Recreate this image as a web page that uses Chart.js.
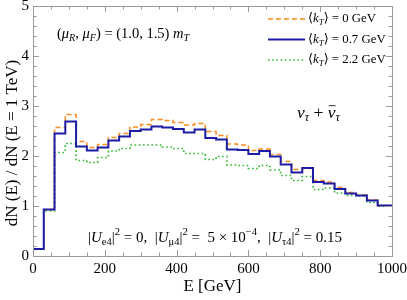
<!DOCTYPE html>
<html><head><meta charset="utf-8">
<script src="https://cdn.jsdelivr.net/npm/chart.js@4.4.1/dist/chart.umd.min.js"></script>
<style>html,body{margin:0;padding:0;background:#fff;}#wrap{width:407px;height:300px;}</style>
</head><body><div id="wrap"><canvas id="c" width="407" height="300"></canvas></div>
<script>
// Bin edges in GeV (left edges, last entry is the right end of the final bin)
const binEdges = [0,30,60,90,120,150,180,210,240,270,300,330,360,390,420,450,480,510,540,570,600,630,660,690,720,750,780,810,840,870,900,930,960,1000];
// Bin contents (one per bin, 33 bins)
const kt0 = [0.14,0.93,2.57,2.83,2.29,2.17,2.23,2.37,2.45,2.58,2.63,2.73,2.71,2.67,2.62,2.65,2.49,2.41,2.24,2.22,2.11,2.14,2.03,1.89,1.73,1.75,1.51,1.48,1.37,1.27,1.22,1.12,1.01];
const kt07 = [0.14,0.93,2.45,2.69,2.19,2.11,2.17,2.31,2.39,2.50,2.53,2.59,2.57,2.54,2.47,2.53,2.36,2.33,2.13,2.12,2.04,2.10,1.99,1.83,1.67,1.76,1.48,1.45,1.34,1.25,1.21,1.11,1.01];
const kt22 = [0.14,0.90,2.07,2.25,1.91,1.87,1.97,2.10,2.15,2.22,2.22,2.22,2.18,2.15,2.05,2.05,1.93,1.99,1.82,1.81,1.75,1.81,1.72,1.61,1.51,1.59,1.33,1.36,1.26,1.21,1.20,1.07,1.00];
const seriesLabels = ['⟨k_T⟩ = 0 GeV','⟨k_T⟩ = 0.7 GeV','⟨k_T⟩ = 2.2 GeV'];
const legendValues = ['0','0.7','2.2'];
const xTicks = [0,200,400,600,800,1000];
const yTicks = [0,1,2,3,4,5];

function toSteps(vals){
  const pts = vals.map((v,i)=>({x:binEdges[i], y:v}));
  pts.push({x:binEdges[binEdges.length-1], y:vals[vals.length-1]});
  return pts;
}
const SERIF = '"Liberation Serif","DejaVu Serif",serif';
const cols = ['#ff8c1e','#1c1ca6','#2eb82e'];
const dashes = [[5,3],[],[1.6,2.6]];
const widths = [1.5,2,1.7];

function drawRich(ctx, x, y, segs, size){
  const parts = segs.map(s=>{
    const sz = (s.sub||s.sup)? size*0.7 : size;
    const f = (s.it?'italic ':'') + sz + 'px ' + SERIF;
    ctx.font = f;
    return {s, f, w: ctx.measureText(s.t).width, sz};
  });
  let cx = x;
  ctx.textBaseline = 'middle';
  ctx.textAlign = 'left';
  ctx.fillStyle = '#000';
  for (const p of parts){
    ctx.font = p.f;
    let yy = y;
    if (p.s.sub) yy = y + size*0.3;
    if (p.s.sup) yy = y - size*0.38;
    ctx.fillText(p.s.t, cx, yy);
    if (p.s.over){
      ctx.save(); ctx.strokeStyle='#000'; ctx.lineWidth=0.8;
      ctx.beginPath(); ctx.moveTo(cx+1, y-size*0.42); ctx.lineTo(cx+p.w, y-size*0.42); ctx.stroke(); ctx.restore();
    }
    cx += p.w;
  }
}

const framePlugin = {
  id:'frame',
  afterDraw(chart){
    const {ctx, chartArea:{left,right,top,bottom}, scales:{x,y}} = chart;
    ctx.save();
    ctx.strokeStyle = '#9a9a9a'; ctx.lineWidth = 1;
    ctx.strokeRect(Math.round(left)+0.5, Math.round(top)+0.5, Math.round(right-left), Math.round(bottom-top));
    ctx.beginPath();
    for (let v=0; v<=1000; v+=50){
      const px = Math.round(x.getPixelForValue(v))+0.5;
      const L = (v%200===0)?6:3.5;
      ctx.moveTo(px,bottom); ctx.lineTo(px,bottom-L);
      ctx.moveTo(px,top); ctx.lineTo(px,top+L);
    }
    for (let k=0; k<=25; k++){
      const v = k*0.2;
      const py = Math.round(y.getPixelForValue(v))+0.5;
      const L = (k%5===0)?6:3.5;
      ctx.moveTo(left,py); ctx.lineTo(left+L,py);
      ctx.moveTo(right,py); ctx.lineTo(right-L,py);
    }
    ctx.stroke();
    // legend
    for (let i=0;i<3;i++){
      const ly = 19 + i*20.5;
      ctx.save();
      ctx.strokeStyle = cols[i]; ctx.lineWidth = widths[i]; ctx.setLineDash(dashes[i]);
      ctx.beginPath(); ctx.moveTo(268, ly); ctx.lineTo(305, ly); ctx.stroke();
      ctx.restore();
      drawRich(ctx, 308, ly, [{t:'⟨'},{t:'k',it:1},{t:'T',it:1,sub:1},{t:'⟩ = '+legendValues[i]+' GeV'}], 12.8);
    }
    drawRich(ctx, 57, 34, [{t:'('},{t:'μ',it:1},{t:'R',it:1,sub:1},{t:', '},{t:'μ',it:1},{t:'F',it:1,sub:1},{t:') = (1.0, 1.5) '},{t:'m',it:1},{t:'T',it:1,sub:1}], 14.5);
    drawRich(ctx, 297, 113, [{t:'ν',it:1},{t:'τ',it:1,sub:1},{t:' + '},{t:'ν',it:1,over:1},{t:'τ',it:1,sub:1}], 17.5);
    drawRich(ctx, 88, 238, [{t:'|'},{t:'U',it:1},{t:'e4',sub:1},{t:'|'},{t:'2',sup:1},{t:' = 0,  |'},{t:'U',it:1},{t:'μ4',sub:1},{t:'|'},{t:'2',sup:1},{t:' =  5 × 10'},{t:'−4',sup:1},{t:',  |'},{t:'U',it:1},{t:'τ4',sub:1},{t:'|'},{t:'2',sup:1},{t:' = 0.15'}], 15);
    // axis titles
    ctx.fillStyle='#000';
    ctx.font = '17px ' + SERIF; ctx.textAlign='center'; ctx.textBaseline='middle';
    ctx.fillText('E [GeV]', (left+right)/2, 287);
    ctx.save(); ctx.translate(13, 143); ctx.rotate(-Math.PI/2);
    ctx.font = '17px ' + SERIF;
    ctx.fillText('dN (E) / dN (E = 1 TeV)', 0, 0);
    ctx.restore();
    ctx.restore();
  }
};

const datasets = [kt0, kt07, kt22].map((vals,i)=>({
  label: seriesLabels[i],
  data: toSteps(vals),
  stepped: true,
  borderColor: cols[i],
  borderWidth: widths[i],
  borderDash: dashes[i],
  pointRadius: 0,
  fill: false,
  order: [1,0,2][i]
}));

new Chart(document.getElementById('c'), {
  type:'line',
  data:{datasets},
  options:{
    responsive:false, animation:false, devicePixelRatio:1,
    layout:{padding:{top:6,right:15,left:0,bottom:0}},
    plugins:{legend:{display:false}, tooltip:{enabled:false}},
    scales:{
      x:{type:'linear', min:0, max:1000,
        afterBuildTicks(s){ s.ticks = xTicks.map(v=>({value:v})); },
        afterFit(s){ s.height = 44; s.paddingLeft=0; s.paddingRight=0; },
        grid:{display:false, drawTicks:false}, border:{display:false},
        ticks:{padding:4, color:'#000', font:{family:SERIF, size:15}, maxRotation:0, autoSkip:false, callback:(v)=>String(v)}},
      y:{type:'linear', min:0, max:5,
        afterBuildTicks(s){ s.ticks = yTicks.map(v=>({value:v})); },
        afterFit(s){ s.width = 33; s.paddingTop=0; s.paddingBottom=0; },
        grid:{display:false, drawTicks:false}, border:{display:false},
        ticks:{padding:4, color:'#000', font:{family:SERIF, size:15}, callback:(v)=>String(v)}}
    }
  },
  plugins:[framePlugin]
});
</script></body></html>
